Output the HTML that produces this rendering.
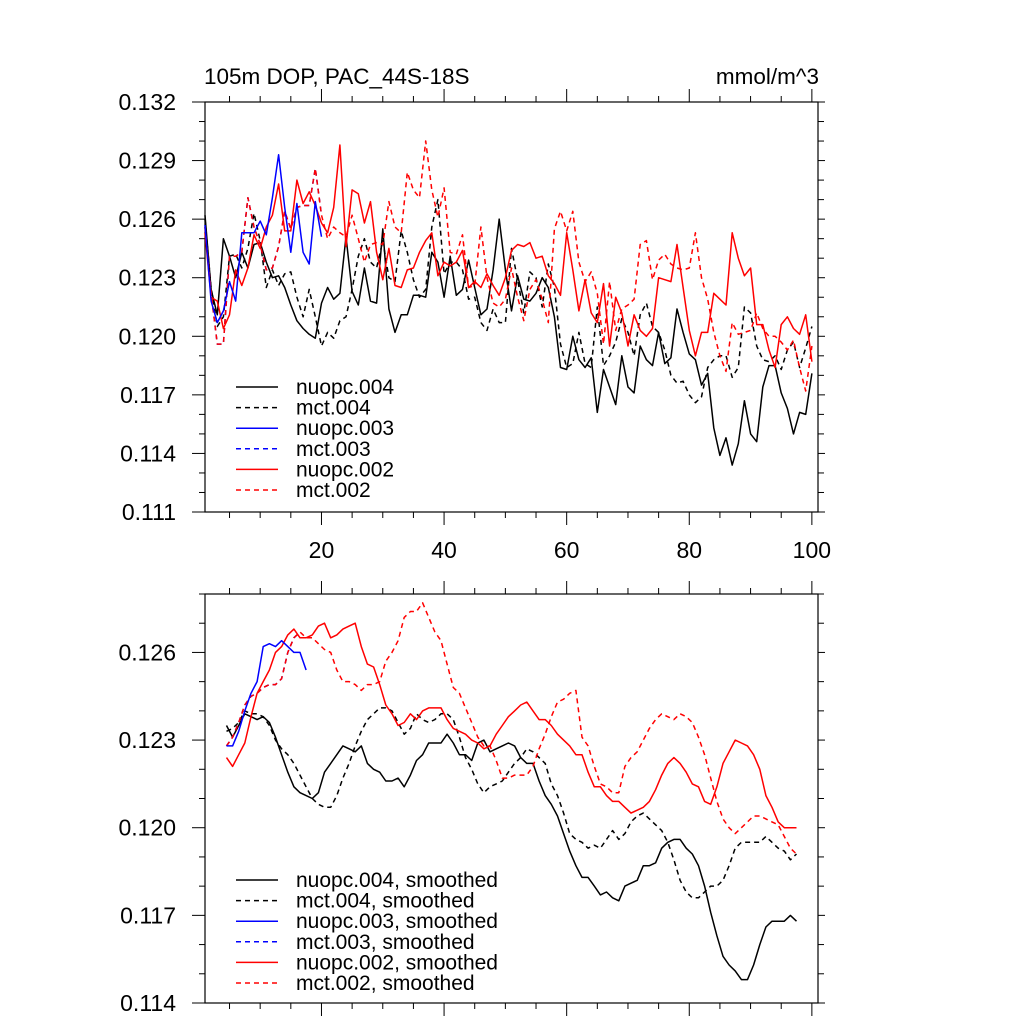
<!DOCTYPE html>
<html><head><meta charset="utf-8"><style>
html,body{margin:0;padding:0;background:#fff;}
svg{display:block;font-family:"Liberation Sans",sans-serif;}
</style></head><body>
<svg id="chart" width="1024" height="1024" viewBox="0 0 1024 1024" xmlns="http://www.w3.org/2000/svg"></svg>
<script>
// ---- top panel data (x = 1..100) ----
const nuopc004 = [0.1262,0.1224,0.1211,0.1250,0.1241,0.1230,0.1243,0.1235,0.1247,0.1248,0.1238,0.1230,0.1231,0.1225,0.1216,0.1208,0.1204,0.1201,0.1199,0.1217,0.1225,0.1219,0.1222,0.1251,0.1223,0.1216,0.1235,0.1218,0.1217,0.1255,0.1214,0.1202,0.1211,0.1211,0.1221,0.1221,0.1220,0.1243,0.1238,0.1220,0.1241,0.1221,0.1224,0.1239,0.1225,0.1211,0.1214,0.1234,0.1260,0.1234,0.1213,0.1231,0.1219,0.1218,0.1222,0.1230,0.1225,0.1210,0.1184,0.1183,0.1200,0.1188,0.1184,0.1189,0.1161,0.1183,0.1174,0.1165,0.1190,0.1174,0.1171,0.1195,0.1188,0.1185,0.1202,0.1186,0.1189,0.1214,0.1202,0.1191,0.1188,0.1175,0.1181,0.1153,0.1139,0.1148,0.1134,0.1145,0.1167,0.1150,0.1146,0.1174,0.1185,0.1185,0.1171,0.1163,0.1150,0.1161,0.1160,0.1181];
const mct004 = [0.1260,0.1225,0.1205,0.1210,0.1241,0.1242,0.1235,0.1245,0.1263,0.1249,0.1225,0.1234,0.1226,0.1232,0.1233,0.1220,0.1210,0.1224,0.1210,0.1195,0.1202,0.1199,0.1208,0.1210,0.1224,0.1241,0.1250,0.1238,0.1235,0.1249,0.1230,0.1228,0.1254,0.1243,0.1229,0.1220,0.1224,0.1256,0.1270,0.1232,0.1238,0.1238,0.1234,0.1219,0.1220,0.1207,0.1203,0.1214,0.1207,0.1207,0.1245,0.1229,0.1212,0.1233,0.1230,0.1215,0.1237,0.1225,0.1196,0.1184,0.1186,0.1202,0.1186,0.1184,0.1215,0.1185,0.1190,0.1197,0.1209,0.1202,0.1190,0.1211,0.1217,0.1205,0.1202,0.1193,0.1180,0.1176,0.1177,0.1170,0.1166,0.1169,0.1184,0.1188,0.1190,0.1190,0.1179,0.1184,0.1215,0.1212,0.1195,0.1188,0.1187,0.1190,0.1183,0.1193,0.1197,0.1184,0.1194,0.1205];
const nuopc003 = [0.1257,0.1218,0.1207,0.1213,0.1228,0.1218,0.1253,0.1253,0.1253,0.1259,0.1252,0.1271,0.1293,0.1266,0.1243,0.1268,0.1243,0.1237,0.1269,0.1251];
const mct003 = [0.1256,0.1222,0.1196,0.1196,0.1241,0.1241,0.1243,0.1271,0.1256,0.1247,0.1234,0.1235,0.1246,0.1264,0.1255,0.1266,0.1267,0.1267,0.1286,0.1262];
const nuopc002 = [0.1253,0.1220,0.1218,0.1204,0.1211,0.1234,0.1226,0.1235,0.1252,0.1245,0.1256,0.1262,0.1278,0.1254,0.1254,0.1280,0.1268,0.1274,0.1267,0.1258,0.1253,0.1266,0.1298,0.1246,0.1275,0.1273,0.1258,0.1269,0.1243,0.1229,0.1245,0.1226,0.1225,0.1234,0.1235,0.1243,0.1249,0.1253,0.1231,0.1238,0.1236,0.1238,0.1244,0.1225,0.1228,0.1225,0.1232,0.1226,0.1221,0.1230,0.1244,0.1247,0.1246,0.1248,0.1240,0.1241,0.1231,0.1227,0.1221,0.1253,0.1234,0.1213,0.1229,0.1212,0.1207,0.1227,0.1195,0.1220,0.1212,0.1195,0.1211,0.1203,0.1200,0.1204,0.1230,0.1229,0.1228,0.1247,0.1225,0.1203,0.1190,0.1202,0.1202,0.1222,0.1219,0.1216,0.1253,0.1240,0.1231,0.1235,0.1206,0.1206,0.1193,0.1184,0.1206,0.1210,0.1204,0.1201,0.1211,0.1187];
const mct002 = [0.1256,0.1222,0.1196,0.1196,0.1241,0.1241,0.1243,0.1271,0.1256,0.1247,0.1234,0.1235,0.1246,0.1264,0.1255,0.1266,0.1267,0.1267,0.1286,0.1262,0.1250,0.1256,0.1253,0.1251,0.1262,0.1250,0.1238,0.1247,0.1248,0.1247,0.1269,0.1256,0.1253,0.1284,0.1275,0.1271,0.1300,0.1275,0.1261,0.1276,0.1243,0.1242,0.1252,0.1225,0.1226,0.1256,0.1230,0.1217,0.1215,0.1219,0.1235,0.1220,0.1208,0.1224,0.1229,0.1219,0.1207,0.1255,0.1264,0.1254,0.1264,0.1238,0.1228,0.1233,0.1222,0.1196,0.1228,0.1203,0.1214,0.1216,0.1219,0.1247,0.1249,0.1229,0.1239,0.1242,0.1237,0.1235,0.1234,0.1235,0.1253,0.1230,0.1219,0.1202,0.1190,0.1182,0.1207,0.1201,0.1202,0.1203,0.1212,0.1204,0.1200,0.1200,0.1197,0.1193,0.1198,0.1184,0.1172,0.1195];
// ---- bottom panel (smoothed) data, x starts at 4.5 ----
const smStartX = 4.5;
const nuopc004sm = [0.1235,0.1231,0.1235,0.1239,0.1238,0.1237,0.1238,0.1236,0.1231,0.1225,0.1219,0.1214,0.1212,0.1211,0.1210,0.1212,0.1219,0.1222,0.1225,0.1228,0.1227,0.1226,0.1228,0.1222,0.1220,0.1219,0.1216,0.1216,0.1217,0.1214,0.1218,0.1223,0.1225,0.1229,0.1229,0.1229,0.1232,0.1229,0.1225,0.1225,0.1223,0.1229,0.1230,0.1226,0.1227,0.1228,0.1229,0.1228,0.1224,0.1222,0.1222,0.1216,0.1211,0.1208,0.1204,0.1198,0.1192,0.1187,0.1183,0.1183,0.1180,0.1177,0.1178,0.1176,0.1175,0.1180,0.1181,0.1182,0.1187,0.1187,0.1188,0.1193,0.1195,0.1196,0.1196,0.1193,0.1191,0.1187,0.1180,0.1171,0.1163,0.1156,0.1153,0.1151,0.1148,0.1148,0.1153,0.1160,0.1166,0.1168,0.1168,0.1168,0.1170,0.1168];
const mct004sm = [0.1233,0.1234,0.1236,0.1240,0.1239,0.1239,0.1238,0.1235,0.1230,0.1227,0.1225,0.1222,0.1218,0.1214,0.1210,0.1208,0.1207,0.1207,0.1211,0.1217,0.1222,0.1228,0.1233,0.1237,0.1239,0.1241,0.1241,0.1240,0.1236,0.1232,0.1234,0.1239,0.1237,0.1236,0.1237,0.1239,0.1239,0.1237,0.1231,0.1224,0.1220,0.1215,0.1212,0.1214,0.1215,0.1216,0.1219,0.1222,0.1224,0.1227,0.1226,0.1224,0.1222,0.1215,0.1211,0.1205,0.1198,0.1196,0.1195,0.1193,0.1194,0.1193,0.1196,0.1199,0.1196,0.1198,0.1202,0.1204,0.1205,0.1203,0.1201,0.1199,0.1195,0.1189,0.1182,0.1178,0.1176,0.1176,0.1178,0.1180,0.1180,0.1182,0.1187,0.1193,0.1195,0.1195,0.1195,0.1195,0.1197,0.1195,0.1193,0.1192,0.1189,0.1191];
const nuopc003sm = [0.1228,0.1228,0.1233,0.1240,0.1246,0.1250,0.1262,0.1263,0.1262,0.1264,0.1262,0.1260,0.1260,0.1254];
const mct003sm = [0.1228,0.1231,0.1236,0.1242,0.1245,0.1246,0.1248,0.1249,0.1249,0.1251,0.1260,0.1265,0.1267];
const nuopc002sm = [0.1224,0.1221,0.1225,0.1229,0.1238,0.1246,0.1250,0.1254,0.1260,0.1262,0.1266,0.1268,0.1265,0.1265,0.1266,0.1269,0.1270,0.1265,0.1266,0.1268,0.1269,0.1270,0.1262,0.1256,0.1255,0.1249,0.1242,0.1239,0.1235,0.1236,0.1239,0.1237,0.1240,0.1241,0.1241,0.1241,0.1237,0.1234,0.1233,0.1232,0.1230,0.1229,0.1227,0.1228,0.1232,0.1235,0.1238,0.1240,0.1242,0.1243,0.1240,0.1237,0.1237,0.1235,0.1232,0.1230,0.1228,0.1225,0.1225,0.1219,0.1214,0.1214,0.1211,0.1209,0.1209,0.1207,0.1205,0.1206,0.1207,0.1209,0.1213,0.1218,0.1222,0.1224,0.1222,0.1219,0.1215,0.1214,0.1209,0.1208,0.1214,0.1222,0.1226,0.1230,0.1229,0.1228,0.1225,0.1220,0.1211,0.1207,0.1202,0.1200,0.1200,0.1200];
const mct002sm = [0.1228,0.1231,0.1236,0.1242,0.1245,0.1246,0.1248,0.1249,0.1249,0.1251,0.1260,0.1265,0.1267,0.1265,0.1265,0.1263,0.1261,0.1260,0.1254,0.1250,0.1250,0.1249,0.1247,0.1249,0.1249,0.1250,0.1257,0.1260,0.1264,0.1272,0.1274,0.1274,0.1277,0.1272,0.1267,0.1264,0.1256,0.1248,0.1246,0.1241,0.1236,0.1231,0.1228,0.1228,0.1223,0.1217,0.1217,0.1218,0.1218,0.1218,0.1221,0.1227,0.1232,0.1238,0.1243,0.1244,0.1246,0.1247,0.1231,0.1228,0.1221,0.1215,0.1214,0.1212,0.1212,0.1221,0.1224,0.1226,0.1230,0.1234,0.1237,0.1239,0.1238,0.1237,0.1239,0.1238,0.1236,0.1231,0.1225,0.1217,0.1209,0.1203,0.1200,0.1198,0.1200,0.1202,0.1204,0.1204,0.1203,0.1202,0.1201,0.1197,0.1193,0.1191];
// ---- tick labels ----
const topYTicks = ["0.111","0.114","0.117","0.120","0.123","0.126","0.129","0.132"];
const botYTicks = ["0.114","0.117","0.120","0.123","0.126"];
const xTicks = ["20","40","60","80","100"];
const topLegend = ["nuopc.004","mct.004","nuopc.003","mct.003","nuopc.002","mct.002"];
const botLegend = ["nuopc.004, smoothed","mct.004, smoothed","nuopc.003, smoothed","mct.003, smoothed","nuopc.002, smoothed","mct.002, smoothed"];

const NS = "http://www.w3.org/2000/svg";
const svg = document.getElementById('chart');
const L = 205, R = 818;
const XMIN = 1, XMAX = 101;
function xPx(v){ return L + (v - XMIN) / (XMAX - XMIN) * (R - L); }
const topP = {t:102, b:512, ymin:0.111, ymax:0.132};
const botP = {t:594, b:1003, ymin:0.114, ymax:0.128};
function yPx(p, v){ return p.t + (p.ymax - v) / (p.ymax - p.ymin) * (p.b - p.t); }
function mk(tag, attrs){ const e = document.createElementNS(NS, tag); for (const k in attrs) e.setAttribute(k, attrs[k]); svg.appendChild(e); return e; }

const styles = [
  {c:'#000', d:null}, {c:'#000', d:'5 4'},
  {c:'#0000ff', d:null}, {c:'#0000ff', d:'5 4'},
  {c:'#ff0000', d:null}, {c:'#ff0000', d:'5 4'}
];

function drawAxes(p, name, yTicks, yStep, minorStep, drawXLabels){
  const f = mk('rect', {x:L, y:p.t, width:R-L, height:p.b-p.t, fill:'none', stroke:'#000', 'stroke-width':1.2});
  
  
  const nMinor = Math.round((p.ymax - p.ymin) / minorStep);
  const per = Math.round(yStep / minorStep);
  for (let idx = 0; idx <= nMinor; idx++){
    const v = p.ymin + idx * minorStep;
    const y = yPx(p, v);
    const major = idx % per === 0;
    const lt = mk('line', {x1:L, x2:L-(major?13:6), y1:y, y2:y, stroke:'#000', 'stroke-width':1});
    
    
    const rt = mk('line', {x1:R, x2:R+(major?7:6), y1:y, y2:y, stroke:'#000', 'stroke-width':1});
    
    
  }
  yTicks.forEach((lab, i) => {
    const v = p.ymin + i * yStep;
    const t = mk('text', {x:176, y:yPx(p, v) + 8, 'font-size':23, 'text-anchor':'end', fill:'#000'});
    t.textContent = lab;
    
    
  });
  for (let v = 5; v <= 100; v += 5){
    const x = xPx(v);
    const major = v % 20 === 0;
    const tt = mk('line', {x1:x, x2:x, y1:p.t, y2:p.t-(major?13:6), stroke:'#000', 'stroke-width':1});
    
    
    const bt = mk('line', {x1:x, x2:x, y1:p.b, y2:p.b+(major?13:6), stroke:'#000', 'stroke-width':1});
    
    
  }
  if (drawXLabels){
    xTicks.forEach(lab => {
      const t = mk('text', {x:xPx(+lab), y:p.b + 46, 'font-size':23, 'text-anchor':'middle', fill:'#000'});
      t.textContent = lab;
      
      
    });
  }
}

function drawSeries(p, name, vals, x0, st){
  const pts = vals.map((v, i) => xPx(x0 + i).toFixed(1) + ',' + yPx(p, v).toFixed(1)).join(' ');
  const a = {points:pts, fill:'none', stroke:st.c, 'stroke-width':1.5, 'stroke-linejoin':'round'};
  if (st.d) a['stroke-dasharray'] = st.d;
  const pl = mk('polyline', a);
  
  
}

function drawLegend(name, labels, y0){
  labels.forEach((lab, i) => {
    const y = y0 + i * 20.6;
    const st = styles[i];
    const a = {x1:236, x2:278, y1:y, y2:y, stroke:st.c, 'stroke-width':1.5};
    if (st.d) a['stroke-dasharray'] = '5 4';
    const ln = mk('line', a);
    
    
    const t = mk('text', {x:296, y:y + 7, 'font-size':21, fill:'#000'});
    t.textContent = lab;
    
    
  });
}

drawAxes(topP, 'top-panel', topYTicks, 0.003, 0.001, true);
drawSeries(topP, 'series-nuopc-004', nuopc004, 1, styles[0]);
drawSeries(topP, 'series-mct-004', mct004, 1, styles[1]);
drawSeries(topP, 'series-mct-003', mct003, 1, styles[3]);
drawSeries(topP, 'series-nuopc-002', nuopc002, 1, styles[4]);
drawSeries(topP, 'series-mct-002', mct002, 1, styles[5]);
drawSeries(topP, 'series-nuopc-003', nuopc003, 1, styles[2]);
drawLegend('top-legend', topLegend, 387);

drawAxes(botP, 'bottom-panel', botYTicks, 0.003, 0.001, false);
drawSeries(botP, 'series-nuopc-004-smoothed', nuopc004sm, smStartX, styles[0]);
drawSeries(botP, 'series-mct-004-smoothed', mct004sm, smStartX, styles[1]);
drawSeries(botP, 'series-mct-003-smoothed', mct003sm, smStartX, styles[3]);
drawSeries(botP, 'series-nuopc-002-smoothed', nuopc002sm, smStartX, styles[4]);
drawSeries(botP, 'series-mct-002-smoothed', mct002sm, smStartX, styles[5]);
drawSeries(botP, 'series-nuopc-003-smoothed', nuopc003sm, smStartX, styles[2]);
drawLegend('bottom-legend', botLegend, 880);

const t1 = mk('text', {x:204, y:84, 'font-size':22.5, fill:'#000'});
t1.textContent = '105m DOP, PAC_44S-18S';


const t2 = mk('text', {x:819, y:84, 'font-size':22.5, 'text-anchor':'end', fill:'#000'});
t2.textContent = 'mmol/m^3';


</script>
</body></html>
